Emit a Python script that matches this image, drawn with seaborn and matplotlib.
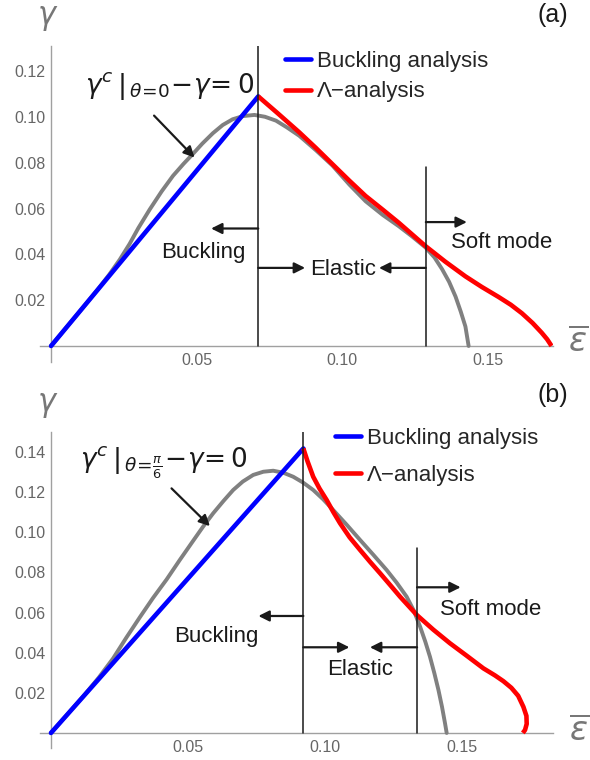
import numpy as np
import pandas as pd
import matplotlib
matplotlib.use("Agg")
import matplotlib.pyplot as plt
import seaborn as sns
from matplotlib.ticker import MultipleLocator, FixedLocator, FixedFormatter
from matplotlib.lines import Line2D

# ---------------- data: panel (a) ----------------
a_blue_x = [0.0, 0.0712]
a_blue_y = [0.0, 0.109]
a_red_x = [0.0712, 0.0780, 0.0853, 0.0910, 0.0967, 0.1025, 0.1081, 0.1140, 0.1195, 0.1287, 0.1355,
           0.1424, 0.1480, 0.1538, 0.1580, 0.1618, 0.1655, 0.1686, 0.1705, 0.1720]
a_red_y = [0.1090, 0.1015, 0.0933, 0.0865, 0.0794, 0.0722, 0.0655, 0.0595, 0.0538, 0.0436, 0.0368,
           0.0304, 0.0258, 0.0214, 0.0180, 0.0143, 0.0100, 0.0058, 0.0029, 0.0]
a_gray_x = [0.0, 0.0050, 0.0100, 0.0160, 0.0200, 0.0236, 0.0270, 0.0300, 0.0339, 0.0380, 0.0419, 0.0455,
            0.0487, 0.0520, 0.0556, 0.0590, 0.0624, 0.0660, 0.0699, 0.0735, 0.0773, 0.0810, 0.0853,
            0.0910, 0.0967, 0.1025, 0.1081, 0.1140, 0.1195, 0.1240, 0.1287, 0.1318, 0.1344, 0.1368,
            0.1390, 0.1408, 0.1424, 0.1435]
a_gray_y = [0.0, 0.0077, 0.0153, 0.0246, 0.0312, 0.0377, 0.0446, 0.0515, 0.0596, 0.0675, 0.0743, 0.0795,
            0.0838, 0.0884, 0.0929, 0.0965, 0.0990, 0.1004, 0.1009, 0.1001, 0.0984, 0.0955, 0.0918,
            0.0855, 0.0788, 0.0705, 0.0632, 0.0572, 0.0523, 0.0479, 0.0430, 0.0386, 0.0335, 0.0280,
            0.0216, 0.0150, 0.0085, 0.0]
a_vline_x = [0.0712, 0.1288]
a_vline_top = [0.131, 0.078]
a_xticks = [0.05, 0.10, 0.15]
a_xticklabels = ["0.05", "0.10", "0.15"]
a_yticks = [0.02, 0.04, 0.06, 0.08, 0.10, 0.12]
a_yticklabels = ["0.02", "0.04", "0.06", "0.08", "0.10", "0.12"]

# ---------------- data: panel (b) ----------------
b_blue_x = [0.0, 0.0921]
b_blue_y = [0.0, 0.1418]
b_red_x = [0.0921, 0.0936, 0.0957, 0.0980, 0.1006, 0.1030, 0.1055, 0.1090, 0.1128, 0.1165, 0.1201,
           0.1238, 0.1274, 0.1335, 0.1395, 0.1456, 0.1517, 0.1578, 0.1620, 0.1651, 0.1680, 0.1705,
           0.1724, 0.1735, 0.1736, 0.1730, 0.1722]
b_red_y = [0.1418, 0.1355, 0.1277, 0.1218, 0.1161, 0.1102, 0.1045, 0.0975, 0.0912, 0.0852, 0.0796,
           0.0737, 0.0679, 0.0588, 0.0515, 0.0447, 0.0385, 0.0322, 0.0287, 0.0258, 0.0225, 0.0185,
           0.0130, 0.0085, 0.0045, 0.0015, 0.0]
b_gray_x = [0.0, 0.0060, 0.0120, 0.0175, 0.0227, 0.0275, 0.0325, 0.0372, 0.0422, 0.0470, 0.0519, 0.0555,
            0.0592, 0.0630, 0.0665, 0.0700, 0.0738, 0.0775, 0.0811, 0.0848, 0.0884, 0.0920, 0.0957,
            0.0993, 0.1030, 0.1079, 0.1128, 0.1177, 0.1225, 0.1262, 0.1298, 0.1324, 0.1347, 0.1366,
            0.1383, 0.1399, 0.1414, 0.1427, 0.1438, 0.1444]
b_gray_y = [0.0, 0.0093, 0.0186, 0.0277, 0.0372, 0.0475, 0.0578, 0.0672, 0.0765, 0.0862, 0.0958, 0.1028,
            0.1095, 0.1157, 0.1211, 0.1253, 0.1286, 0.1302, 0.1307, 0.1297, 0.1277, 0.1248, 0.1211,
            0.1165, 0.1111, 0.1038, 0.0962, 0.0887, 0.0812, 0.0748, 0.0679, 0.0610, 0.0530, 0.0455,
            0.0380, 0.0298, 0.0214, 0.0130, 0.0048, 0.0]
b_vline_x = [0.0921, 0.1336]
b_vline_top = [0.151, 0.092]
b_xticks = [0.05, 0.10, 0.15]
b_xticklabels = ["0.05", "0.10", "0.15"]
b_yticks = [0.02, 0.04, 0.06, 0.08, 0.10, 0.12, 0.14]
b_yticklabels = ["0.02", "0.04", "0.06", "0.08", "0.10", "0.12", "0.14"]

series_names = ["Buckling analysis", "\u039b\u2212analysis"]

sns.set_theme(style="white")
plt.rcParams['font.family'] = ['Liberation Sans', 'DejaVu Sans']
plt.rcParams['mathtext.fontset'] = 'dejavusans'

fig = plt.figure(figsize=(5.9, 7.6), dpi=100)
W, H = 590.0, 760.0

BLUE = (0, 0, 1)
RED = (1, 0, 0)
GRAY = (0.5, 0.5, 0.5)
AXC = '#a0a0a0'
LBLC = '#666666'
LW = 3.3


def make_panel(box, xlim, ylim, blue, red, gray, vx, vtop, xt, xtl, yt, ytl,
               arrows, texts, eq, eq_pos, eq_arrow, leg_anchor, leg_spacing, tag, tag_pos):
    l, t, r, b = box
    ax = fig.add_axes([l / W, 1 - b / H, (r - l) / W, (b - t) / H])
    df_gray = pd.DataFrame({"x": gray[0], "y": gray[1]})
    sns.lineplot(data=df_gray, x="x", y="y", ax=ax, color=GRAY, lw=2.8, sort=False,
                 estimator=None, legend=False, zorder=2)
    df_b = pd.DataFrame({"x": blue[0], "y": blue[1]})
    sns.lineplot(data=df_b, x="x", y="y", ax=ax, color=BLUE, lw=LW, sort=False,
                 estimator=None, legend=False, zorder=3, solid_capstyle='round')
    df_r = pd.DataFrame({"x": red[0], "y": red[1]})
    sns.lineplot(data=df_r, x="x", y="y", ax=ax, color=RED, lw=LW, sort=False,
                 estimator=None, legend=False, zorder=3, solid_capstyle='butt')
    for x0, tp in zip(vx, vtop):
        ax.plot([x0, x0], [0, tp], color='k', lw=1.1, zorder=4)

    ax.set_xlim(*xlim)
    ax.set_ylim(*ylim)
    for s in ['top', 'right']:
        ax.spines[s].set_visible(False)
    ax.spines['left'].set_position(('data', 0))
    ax.spines['bottom'].set_position(('data', 0))
    for s in ['left', 'bottom']:
        ax.spines[s].set_color(AXC)
        ax.spines[s].set_linewidth(1.0)
        ax.spines[s].set_zorder(1)
    ax.xaxis.set_major_locator(FixedLocator(xt))
    ax.xaxis.set_major_formatter(FixedFormatter(xtl))
    ax.yaxis.set_major_locator(FixedLocator(yt))
    ax.yaxis.set_major_formatter(FixedFormatter(ytl))
    ax.xaxis.set_minor_locator(MultipleLocator(0.01))
    ax.yaxis.set_minor_locator(MultipleLocator(0.005))
    ax.tick_params(which='both', direction='in', color=AXC, labelcolor=LBLC, labelsize=11.5)
    ax.tick_params(which='major', length=4.5, width=0.9)
    ax.tick_params(which='minor', length=2.5, width=0.7)
    ax.tick_params(axis='x', pad=5)
    ax.tick_params(axis='y', pad=4)
    ax.set_xlabel("")
    ax.set_ylabel("")
    ax.grid(False)

    for (x0, y0, x1) in arrows:
        ax.annotate("", xy=(x1, y0), xytext=(x0, y0),
                    arrowprops=dict(arrowstyle='-|>', color='k', lw=1.6, mutation_scale=16,
                                    shrinkA=0, shrinkB=0), zorder=5)
    for (txt, x0, y0, ha) in texts:
        ax.text(x0, y0, txt, ha=ha, va='center', fontsize=16, color='k')

    ax.text(eq_pos[0], eq_pos[1], eq, ha='left', va='center', fontsize=19, color='k')
    ax.annotate("", xy=eq_arrow[1], xytext=eq_arrow[0],
                arrowprops=dict(arrowstyle='-|>', color='k', lw=1.6, mutation_scale=16,
                                shrinkA=0, shrinkB=0))

    handles = [Line2D([], [], color=BLUE, lw=LW), Line2D([], [], color=RED, lw=LW)]
    ax.legend(handles, series_names, loc='upper left', bbox_to_anchor=leg_anchor,
              bbox_transform=fig.transFigure, frameon=False, fontsize=16,
              handlelength=1.15, handletextpad=0.28, labelspacing=leg_spacing,
              borderpad=0, borderaxespad=0)
    fig.text(tag_pos[0] / W, 1 - tag_pos[1] / H, tag, ha='center', va='center', fontsize=18, color='k')
    return ax


# panel (a)
make_panel(box=(40, 46, 553, 362), xlim=(-0.0038, 0.1725), ylim=(-0.007, 0.131),
           blue=(a_blue_x, a_blue_y), red=(a_red_x, a_red_y), gray=(a_gray_x, a_gray_y),
           vx=a_vline_x, vtop=a_vline_top, xt=a_xticks, xtl=a_xticklabels, yt=a_yticks, ytl=a_yticklabels,
           arrows=[(0.0712, 0.0513, 0.0550), (0.0712, 0.0341, 0.0873), (0.1288, 0.0341, 0.1127),
                   (0.1288, 0.0541, 0.1429)],
           texts=[("Buckling", 0.0524, 0.0407, 'center'), ("Elastic", 0.1003, 0.0336, 'center'),
                  ("Soft mode", 0.1376, 0.0450, 'left')],
           eq=r"$\gamma^{c}\,|_{\,\theta\!=\!0}\!-\!\gamma\!=\!\,0$", eq_pos=(0.0116, 0.1136),
           eq_arrow=((0.0354, 0.1006), (0.0493, 0.0823)),
           leg_anchor=(285 / W, 1 - 51 / H), leg_spacing=0.42, tag="(a)", tag_pos=(553, 15))

# panel (b)
make_panel(box=(40, 432, 553, 748), xlim=(-0.004, 0.1832), ylim=(-0.0075, 0.150),
           blue=(b_blue_x, b_blue_y), red=(b_red_x, b_red_y), gray=(b_gray_x, b_gray_y),
           vx=b_vline_x, vtop=b_vline_top, xt=b_xticks, xtl=b_xticklabels, yt=b_yticks, ytl=b_yticklabels,
           arrows=[(0.0921, 0.0583, 0.0757), (0.0921, 0.0427, 0.1089), (0.1336, 0.0427, 0.1164),
                   (0.1336, 0.0726, 0.1495)],
           texts=[("Buckling", 0.0605, 0.0480, 'center'), ("Elastic", 0.1128, 0.0317, 'center'),
                  ("Soft mode", 0.1420, 0.0613, 'left')],
           eq=r"$\gamma^{c}\,|_{\,\theta\!=\!\frac{\pi}{6}}\!-\!\gamma\!=\!\,0$", eq_pos=(0.0106, 0.1345),
           eq_arrow=((0.0440, 0.1219), (0.0580, 0.1031)),
           leg_anchor=(335 / W, 1 - 428 / H), leg_spacing=0.7, tag="(b)", tag_pos=(553, 395))

# axis labels (gamma and epsilon-bar)
for (gx, gy) in [(48, 18), (48, 405)]:
    fig.text(gx / W, 1 - gy / H, r"$\gamma$", ha='center', va='center', fontsize=22, color='#777777')
for (ex, ey) in [(578, 343), (579, 732)]:
    fig.text(ex / W, 1 - ey / H, r"$\overline{\varepsilon}$", ha='center', va='center', fontsize=24,
             color='#777777')

fig.savefig("out.png", dpi=100)
